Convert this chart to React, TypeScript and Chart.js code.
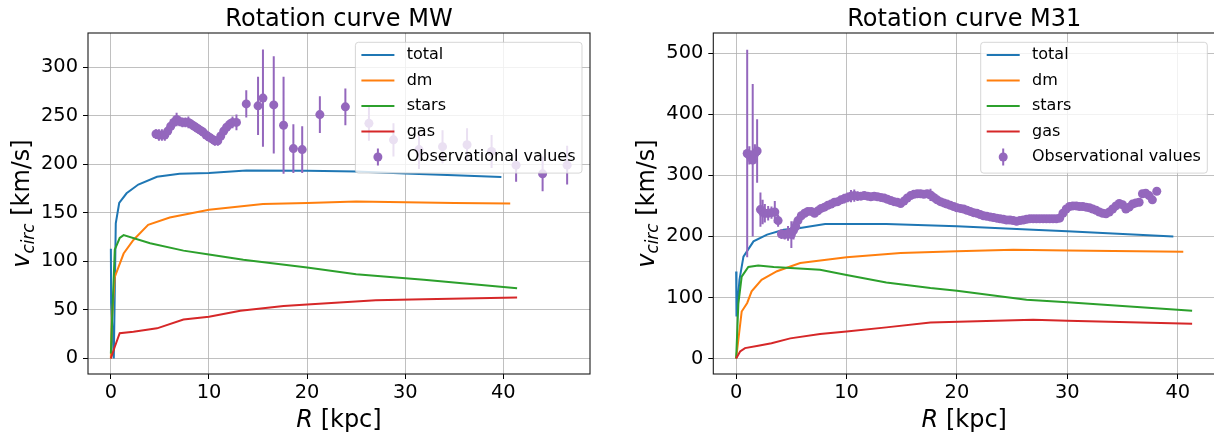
import React, { useEffect, useRef } from 'react';
import { Chart, registerables } from 'chart.js';

Chart.register(...registerables);

type Pt = [number, number];

// ---- Milky Way model components: [R (kpc), v (km/s)] ----
const mwTotal: Pt[] = [
  [0, 113], [0.03, 57], [0.3, 0], [0.5, 139], [0.85, 160], [1.6, 170], [2.8, 179],
  [4.7, 187], [7, 190], [10, 191], [13.8, 193.5], [20, 193.3], [25, 192.5],
  [30, 190.5], [35, 188.5], [39.8, 186.8],
];
const mwDm: Pt[] = [
  [0, 0], [0.1, 40], [0.4, 84], [1.3, 108], [2.3, 122], [3.8, 137.5], [6, 145],
  [10, 153], [15.5, 159], [20, 160], [25, 161.5], [30, 160.8], [35, 160], [40.7, 159.4],
];
const mwStars: Pt[] = [
  [0, 5], [0.2, 60], [0.4, 112], [0.9, 124], [1.3, 127], [4, 118.6], [7.4, 111],
  [10, 107], [13.5, 101.5], [20, 93.6], [25, 86.7], [31.9, 81], [41.4, 72.3],
];
const mwGas: Pt[] = [
  [0, 0], [0.4, 12], [0.9, 26], [2.3, 27.4], [4.7, 31], [7.4, 40], [10, 43],
  [13.2, 49], [17.6, 54], [20, 55.5], [27, 60], [31.9, 61], [41.4, 62.7],
];

// ---- Milky Way observed rotation speeds ----
const mwObsR = [
  4.6, 4.9, 5.2, 5.5, 5.8, 6.1, 6.4, 6.7, 7.0, 7.3, 7.6, 7.9, 8.2, 8.5, 8.8, 9.1,
  9.4, 9.7, 10.0, 10.3, 10.6, 10.9, 11.2, 11.5, 11.8, 12.1, 12.4, 12.8,
  13.8, 15.0, 15.5, 16.6, 17.6, 18.6, 19.5, 21.3, 23.9, 26.3, 28.8, 31.4, 33.8,
  36.3, 38.8, 41.3, 44.0, 46.5,
];
const mwObsV = [
  231, 230, 230, 230, 234, 239, 243, 246, 244, 243, 243, 243, 241, 239, 237, 235,
  233, 230, 228, 226, 224, 224, 229, 234, 238, 241, 243, 243,
  262, 260, 268, 261, 240, 216, 215, 251, 259, 242, 225, 215, 218,
  220, 213, 199, 190, 199,
];
const mwObsErr = [
  5, 6, 6, 6, 5, 5, 5, 7, 5, 5, 5, 6, 5, 5, 5, 5,
  5, 5, 5, 5, 5, 5, 5, 5, 5, 5, 6, 8,
  14, 30, 50, 50, 50, 25, 24, 19, 19, 18, 17, 20, 17,
  17, 17, 17, 18, 20,
];

// ---- M31 model components ----
const m31Total: Pt[] = [
  [0, 142.6], [0.03, 69], [0.3, 129], [0.66, 167], [1.57, 192], [2.8, 203],
  [4.3, 211], [5.8, 214], [8.06, 220.5], [13.6, 220.5], [20, 216.6], [26.9, 211],
  [30, 208.4], [39.6, 200],
];
const m31Dm: Pt[] = [
  [0, 0], [0.5, 77], [1, 91], [1.4, 110], [2.3, 129], [3.7, 143], [5.8, 156.5],
  [10, 165.8], [14.9, 173], [20, 175.6], [25.1, 178.3], [30, 177], [40.5, 175],
];
const m31Stars: Pt[] = [
  [0, 0], [0.2, 90], [0.5, 134], [1.1, 150], [2, 152.5], [3.4, 150], [7.6, 145.5],
  [10, 137], [13.6, 124.7], [17.6, 115.4], [20, 111], [26.3, 96.3], [30, 92], [41.3, 78.2],
];
const m31Gas: Pt[] = [
  [0, 0], [0.36, 11.5], [0.8, 17], [2, 20.8], [3.2, 25], [4.9, 33], [7.6, 40],
  [10, 44.3], [13.6, 51], [17.6, 59], [26.9, 63.5], [30, 61.8], [41.3, 56.9],
];

// ---- M31 observed rotation speeds ----
const m31ObsR = [
  1.0, 1.2, 1.5, 1.7, 1.9, 2.2, 2.4, 2.6, 2.9, 3.2, 3.5, 3.8, 4.1, 4.4, 4.7, 5.0,
  5.2, 5.4, 5.6, 5.9, 6.2, 6.5, 6.8, 7.1, 7.4, 7.7, 8.0, 8.3, 8.6, 8.9, 9.2, 9.5,
  9.8, 10.1, 10.4, 10.7, 11.0, 11.3, 11.6, 11.9, 12.2, 12.5, 12.8, 13.1, 13.4, 13.7,
  14.0, 14.3, 14.6, 14.9, 15.2, 15.5, 15.8, 16.1, 16.4, 16.7, 17.0, 17.3, 17.6, 17.9,
  18.2, 18.5, 18.8, 19.1, 19.4, 19.7, 20.0, 20.3, 20.6, 20.9, 21.2, 21.5, 21.8, 22.1,
  22.4, 22.7, 23.0, 23.3, 23.6, 23.9, 24.2, 24.5, 24.8, 25.1, 25.4, 25.7, 26.0, 26.3,
  26.6, 26.9, 27.2, 27.5, 27.8, 28.1, 28.4, 28.7, 29.0, 29.3, 29.6, 29.9, 30.2, 30.5,
  30.8, 31.1, 31.4, 31.7, 32.0, 32.3, 32.6, 32.9, 33.2, 33.5, 33.8, 34.1, 34.4, 34.7,
  35.0, 35.3, 35.6, 35.9, 36.2, 36.5, 36.8, 37.1, 37.4, 37.7, 38.1,
];
const m31ObsV = [
  336, 333, 325, 336, 340, 244, 240, 238, 238, 239, 240, 226, 204, 203, 205, 203,
  210, 216, 226, 234, 238, 241, 241, 238, 242, 246, 248, 251, 253, 256, 257, 260,
  262, 264, 266, 267, 266, 266, 267, 266, 265, 266, 265, 264, 263, 261,
  259, 257, 256, 254, 258, 263, 267, 269, 270, 270, 269, 270, 268, 264,
  260, 257, 255, 253, 251, 249, 247, 246, 245, 243, 241, 239, 238, 236,
  234, 233, 232, 231, 230, 229, 228, 227, 227, 226, 225, 226, 227, 228,
  229, 229, 229, 229, 229, 229, 229, 229, 229, 230, 238, 245, 249, 250,
  250, 249, 249, 248, 247, 245, 243, 240, 238, 237, 240, 245, 250, 254,
  252, 245, 248, 253, 255, 256, 270, 271, 267, 260, 274,
];
const m31ObsErr = [
  170, 15, 125, 15, 52, 28, 20, 15, 12, 10, 18, 10, 8, 8, 12, 22,
  15, 8, 6, 5, 6, 5, 5, 5, 5, 5, 5, 5, 5, 6, 5, 6,
  8, 8, 10, 10, 8, 6, 5, 5, 5, 5, 5, 5, 5, 5,
  5, 5, 5, 5, 5, 5, 5, 5, 5, 5, 6, 5, 10, 8,
  6, 5, 5, 5, 5, 5, 5, 5, 5, 5, 5, 5, 5, 5,
  5, 5, 5, 5, 5, 5, 5, 5, 5, 5, 5, 5, 5, 5,
  5, 5, 5, 5, 5, 5, 5, 5, 5, 5, 5, 5, 5, 5,
  5, 5, 5, 5, 5, 5, 5, 5, 5, 5, 5, 5, 5, 5,
  5, 5, 5, 5, 5, 5, 5, 5, 5, 5, 5,
];

const seriesLabels = ['total', 'dm', 'stars', 'gas', 'Observational values'];
const seriesColors = ['#1f77b4', '#ff7f0e', '#2ca02c', '#d62728', '#9467bd'];
const xTicksKpc = [0, 10, 20, 30, 40];
const mwYTicks = [0, 50, 100, 150, 200, 250, 300];
const m31YTicks = [0, 100, 200, 300, 400, 500];

const FONT = '"DejaVu Sans", "Noto Sans", sans-serif';
const OBS_INDEX = 4;

interface PanelSpec {
  title: string;
  models: Pt[][];
  obsR: number[];
  obsV: number[];
  obsErr: number[];
  xMin: number;
  xMax: number;
  yMin: number;
  yMax: number;
  yTicks: number[];
  axisWidth: number;
  padRight: number;
  yLabelX: number;
}

function drawErrorBars(chart: any, spec: PanelSpec) {
  const ctx = chart.ctx as CanvasRenderingContext2D;
  const area = chart.chartArea;
  const xs = chart.scales.x;
  const ys = chart.scales.y;
  ctx.save();
  ctx.beginPath();
  ctx.rect(area.left, area.top, area.right - area.left, area.bottom - area.top);
  ctx.clip();
  ctx.strokeStyle = seriesColors[OBS_INDEX];
  ctx.lineWidth = 2;
  ctx.beginPath();
  spec.obsR.forEach((r, i) => {
    const px = xs.getPixelForValue(r);
    ctx.moveTo(px, ys.getPixelForValue(spec.obsV[i] - spec.obsErr[i]));
    ctx.lineTo(px, ys.getPixelForValue(spec.obsV[i] + spec.obsErr[i]));
  });
  ctx.stroke();
  ctx.restore();
}

function drawLegend(ctx: CanvasRenderingContext2D, area: any) {
  const w = 226.6;
  const h = 130.8;
  const x0 = area.right - 8 - w;
  const y0 = area.top + 9.3;
  const r = 3;
  ctx.save();
  ctx.beginPath();
  ctx.moveTo(x0 + r, y0);
  ctx.arcTo(x0 + w, y0, x0 + w, y0 + h, r);
  ctx.arcTo(x0 + w, y0 + h, x0, y0 + h, r);
  ctx.arcTo(x0, y0 + h, x0, y0, r);
  ctx.arcTo(x0, y0, x0 + w, y0, r);
  ctx.closePath();
  ctx.fillStyle = 'rgba(255,255,255,0.8)';
  ctx.fill();
  ctx.strokeStyle = 'rgba(204,204,204,0.8)';
  ctx.lineWidth = 1;
  ctx.stroke();

  ctx.font = `16px ${FONT}`;
  ctx.textBaseline = 'middle';
  ctx.textAlign = 'left';
  seriesLabels.forEach((label, i) => {
    const cy = y0 + 12.7 + i * 25.5;
    ctx.strokeStyle = seriesColors[i];
    ctx.fillStyle = seriesColors[i];
    ctx.lineWidth = 2;
    if (i < OBS_INDEX) {
      ctx.beginPath();
      ctx.moveTo(x0 + 6, cy);
      ctx.lineTo(x0 + 39, cy);
      ctx.stroke();
    } else {
      const cx = x0 + 22.5;
      ctx.beginPath();
      ctx.moveTo(cx, cy - 8.5);
      ctx.lineTo(cx, cy + 8.5);
      ctx.stroke();
      ctx.beginPath();
      ctx.arc(cx, cy, 4.5, 0, Math.PI * 2);
      ctx.fill();
    }
    ctx.fillStyle = '#000';
    ctx.fillText(label, x0 + 51.3, cy);
  });
  ctx.restore();
}

function drawDecor(chart: any, spec: PanelSpec) {
  const ctx = chart.ctx as CanvasRenderingContext2D;
  const a = chart.chartArea;
  const cx = (a.left + a.right) / 2;
  const cy = (a.top + a.bottom) / 2;
  ctx.save();

  // frame
  ctx.strokeStyle = '#1a1a1a';
  ctx.lineWidth = 1.1;
  ctx.strokeRect(a.left, a.top, a.right - a.left, a.bottom - a.top);

  ctx.fillStyle = '#000';
  ctx.textBaseline = 'alphabetic';

  // title
  ctx.textAlign = 'center';
  ctx.font = `24px ${FONT}`;
  ctx.fillText(spec.title, cx, 26);

  // x-axis label: italic R + [kpc]
  ctx.textAlign = 'left';
  ctx.font = `italic 24px ${FONT}`;
  const wR = ctx.measureText('R').width;
  ctx.font = `24px ${FONT}`;
  const wRest = ctx.measureText(' [kpc]').width;
  let px = cx - (wR + wRest) / 2;
  ctx.font = `italic 24px ${FONT}`;
  ctx.fillText('R', px, 427);
  ctx.font = `24px ${FONT}`;
  ctx.fillText(' [kpc]', px + wR, 427);

  // y-axis label: v_circ [km/s], rotated
  ctx.translate(spec.yLabelX, cy);
  ctx.rotate(-Math.PI / 2);
  ctx.font = `italic 24px ${FONT}`;
  const wV = ctx.measureText('v').width;
  ctx.font = `italic 16.8px ${FONT}`;
  const wSub = ctx.measureText('circ').width;
  ctx.font = `24px ${FONT}`;
  const wUnit = ctx.measureText(' [km/s]').width;
  px = -(wV + wSub + wUnit) / 2;
  ctx.font = `italic 24px ${FONT}`;
  ctx.fillText('v', px, 0);
  px += wV;
  ctx.font = `italic 16.8px ${FONT}`;
  ctx.fillText('circ', px, 4.5);
  px += wSub;
  ctx.font = `24px ${FONT}`;
  ctx.fillText(' [km/s]', px, 0);
  ctx.restore();

  drawLegend(ctx, a);
}

function buildConfig(spec: PanelSpec): any {
  const lineSets = spec.models.map((pts, i) => ({
    type: 'line',
    label: seriesLabels[i],
    data: pts.map(([x, y]) => ({ x, y })),
    borderColor: seriesColors[i],
    backgroundColor: seriesColors[i],
    borderWidth: 2,
    pointRadius: 0,
    tension: 0,
    fill: false,
    showLine: true,
    order: 4 - i,
  }));
  const obsSet = {
    type: 'scatter',
    label: seriesLabels[OBS_INDEX],
    data: spec.obsR.map((x, i) => ({ x, y: spec.obsV[i] })),
    backgroundColor: seriesColors[OBS_INDEX],
    borderColor: seriesColors[OBS_INDEX],
    borderWidth: 0,
    pointRadius: 4.5,
    order: 0,
  };
  const tickFont = { family: FONT, size: 19.4 };
  const gridOpts = {
    color: '#b0b0b0',
    lineWidth: 0.8,
    tickColor: '#000',
    tickLength: 5,
    tickWidth: 1,
  };
  return {
    type: 'scatter',
    data: { datasets: [...lineSets, obsSet] },
    options: {
      responsive: false,
      animation: false,
      events: [],
      layout: { padding: { top: 33, right: spec.padRight, left: 0, bottom: 0 } },
      plugins: { legend: { display: false }, tooltip: { enabled: false }, title: { display: false } },
      scales: {
        x: {
          type: 'linear',
          min: spec.xMin,
          max: spec.xMax,
          grid: gridOpts,
          border: { display: false },
          ticks: { font: tickFont, color: '#000', padding: 2, maxRotation: 0, autoSkip: false },
          afterBuildTicks: (s: any) => {
            s.ticks = xTicksKpc.map((v) => ({ value: v }));
          },
          afterFit: (s: any) => {
            s.height = 62;
          },
        },
        y: {
          type: 'linear',
          min: spec.yMin,
          max: spec.yMax,
          grid: gridOpts,
          border: { display: false },
          ticks: { font: tickFont, color: '#000', padding: 5, autoSkip: false },
          afterBuildTicks: (s: any) => {
            s.ticks = spec.yTicks.map((v) => ({ value: v }));
          },
          afterFit: (s: any) => {
            s.width = spec.axisWidth;
          },
        },
      },
    },
    plugins: [
      {
        id: 'rotationDecor',
        beforeDatasetDraw: (chart: any, args: any) => {
          if (args.index === OBS_INDEX) drawErrorBars(chart, spec);
        },
        afterDraw: (chart: any) => drawDecor(chart, spec),
      },
    ],
  };
}

const mwPanel: PanelSpec = {
  title: 'Rotation curve MW',
  models: [mwTotal, mwDm, mwStars, mwGas],
  obsR: mwObsR,
  obsV: mwObsV,
  obsErr: mwObsErr,
  xMin: -2.33,
  xMax: 48.83,
  yMin: -16,
  yMax: 335,
  yTicks: mwYTicks,
  axisWidth: 88,
  padRight: 10,
  yLabelX: 29,
};

const m31Panel: PanelSpec = {
  title: 'Rotation curve M31',
  models: [m31Total, m31Dm, m31Stars, m31Gas],
  obsR: m31ObsR,
  obsV: m31ObsV,
  obsErr: m31ObsErr,
  xMin: -2.07,
  xMax: 43.4,
  yMin: -25.4,
  yMax: 533.4,
  yTicks: m31YTicks,
  axisWidth: 113.3,
  padRight: 4.7,
  yLabelX: 53.5,
};

export default function App() {
  const leftRef = useRef<HTMLCanvasElement>(null);
  const rightRef = useRef<HTMLCanvasElement>(null);

  useEffect(() => {
    const charts: Chart[] = [];
    if (leftRef.current) charts.push(new Chart(leftRef.current, buildConfig(mwPanel)));
    if (rightRef.current) charts.push(new Chart(rightRef.current, buildConfig(m31Panel)));
    return () => charts.forEach((c) => c.destroy());
  }, []);

  return (
    <div
      style={{
        position: 'fixed',
        left: 0,
        top: 0,
        width: 1214,
        height: 436,
        overflow: 'hidden',
        background: '#fff',
      }}
    >
      <canvas
        ref={leftRef}
        width={600}
        height={436}
        style={{ position: 'absolute', left: 0, top: 0, width: 600, height: 436 }}
      />
      <canvas
        ref={rightRef}
        width={620}
        height={436}
        style={{ position: 'absolute', left: 600, top: 0, width: 620, height: 436 }}
      />
    </div>
  );
}
